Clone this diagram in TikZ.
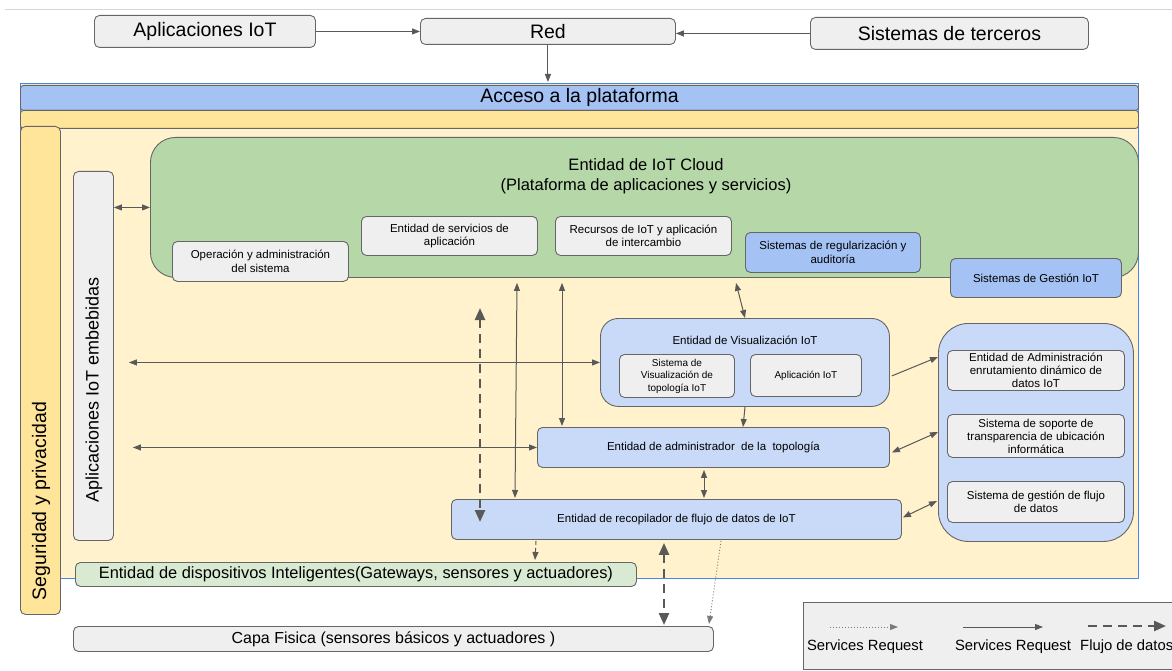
\documentclass[tikz,border=0pt]{standalone}
\usepackage{fontspec}
\setmainfont{Liberation Sans}
\usetikzlibrary{arrows.meta,calc}
\definecolor{boxgray}{HTML}{EFEFEF}
\definecolor{edgegray}{HTML}{666666}
\definecolor{arrgray}{HTML}{595959}
\definecolor{bluelight}{HTML}{C9DAF8}
\definecolor{bluemid}{HTML}{A4C2F4}
\definecolor{blueline}{HTML}{4A86E8}
\definecolor{greenmid}{HTML}{B6D7A8}
\definecolor{greenlight}{HTML}{D9EAD3}
\definecolor{yellowmid}{HTML}{FFE599}
\definecolor{yellowlight}{HTML}{FFF2CC}
\definecolor{rulegray}{HTML}{D6D6D6}
\begin{document}
\begin{tikzpicture}[x=1pt,y=-1pt,
  box/.style={draw=edgegray, line width=0.9pt, rounded corners=5pt, anchor=north west,
    inner sep=0pt, align=center, text=black},
  txt/.style={inner sep=0pt, align=center, text=black},
  fbig/.style={font=\fontsize{19.5}{22}\selectfont},
  fmid/.style={font=\fontsize{16}{19}\selectfont},
  fsmall/.style={font=\fontsize{11.5}{13.5}\selectfont},
  conn/.style={draw=arrgray, line width=1pt},
  one/.style={conn, -{Triangle[length=8pt,width=6pt]}},
  two/.style={conn, {Triangle[length=8pt,width=6pt]}-{Triangle[length=8pt,width=6pt]}},
  flow/.style={draw=arrgray, line width=2.4pt, dash pattern=on 9pt off 6pt,
    {Triangle[length=12pt,width=10pt]}-{Triangle[length=12pt,width=10pt]}},
  thindash/.style={draw=arrgray, line width=1pt, dash pattern=on 4pt off 3pt,
    -{Triangle[length=8pt,width=6pt]}},
  dots/.style={draw=arrgray!80, line width=0.9pt, dash pattern=on 1pt off 2pt,
    -{Triangle[length=8pt,width=6pt]}},
]
\useasboundingbox (0,0) rectangle (1172,671);
\clip (0,0) rectangle (1172,671);

% thin rule across the top
\draw[rulegray, line width=1pt] (5,10) -- (1172,10);

% external actors
\node[box, fill=boxgray, fbig, minimum width=221pt, minimum height=32pt] (apl) at (94,15) {Aplicaciones IoT};
\node[box, fill=boxgray, fbig, minimum width=255pt, minimum height=26pt] (red) at (420,18) {Red};
\node[box, fill=boxgray, fbig, minimum width=278pt, minimum height=32pt] (ter) at (810,17) {Sistemas de terceros};

% platform container
\node[draw=blueline, line width=1.3pt, fill=yellowlight, anchor=north west, inner sep=0pt,
  minimum width=1118pt, minimum height=495pt] (plat) at (20,83) {};
\node[box, rounded corners=3pt, fill=bluemid, font=\fontsize{19.5}{22}\selectfont,
  minimum width=1118pt, minimum height=25pt] (acc) at (20,85) {Acceso a la plataforma};
\node[box, rounded corners=3pt, fill=yellowmid, minimum width=1118pt, minimum height=18pt] (band) at (20,110) {};

% vertical bars
\node[box, fill=yellowmid, minimum width=40pt, minimum height=488pt] (seg) at (20,126) {};
\node[txt, rotate=90, font=\fontsize{19.5}{22}\selectfont] (segtxt) at (41,501) {Seguridad y privacidad};
\node[box, fill=boxgray, minimum width=40pt, minimum height=369pt] (emb) at (73,171) {};
\node[txt, rotate=90, font=\fontsize{18}{21}\selectfont] (embtxt) at (94,390) {Aplicaciones IoT embebidas};

% cloud entity
\node[box, rounded corners=25pt, fill=greenmid, minimum width=988pt, minimum height=140pt] (cloud) at (150,137) {};
\node[txt, font=\fontsize{16.5}{20}\selectfont] (cloudtitle) at (646,176)
  {Entidad de IoT Cloud\\(Plataforma de aplicaciones y servicios)};
\node[box, fill=boxgray, fsmall, minimum width=176pt, minimum height=40pt] (ops) at (172,241)
  {Operación y administración\\del sistema};
\node[box, fill=boxgray, fsmall, minimum width=176pt, minimum height=39pt] (serv) at (361,216)
  {Entidad de servicios de\\aplicación};
\node[box, fill=boxgray, fsmall, minimum width=176pt, minimum height=39pt] (recu) at (555,216)
  {Recursos de IoT y aplicación\\de intercambio};
\node[box, fill=bluemid, fsmall, minimum width=175pt, minimum height=40pt] (regu) at (745,232)
  {Sistemas de regularización y\\auditoría};
\node[box, fill=bluemid, fsmall, minimum width=171pt, minimum height=39pt] (gest) at (950,258)
  {Sistemas de Gestión IoT};

% visualisation entity
\node[box, rounded corners=18pt, fill=bluelight, minimum width=289pt, minimum height=88pt] (vis) at (600,318) {};
\node[txt, font=\fontsize{11.5}{13}\selectfont] (vistitle) at (745,340) {Entidad de Visualización IoT};
\node[box, fill=boxgray, font=\fontsize{10}{12.5}\selectfont, minimum width=115pt, minimum height=43pt] (vtop) at (619,354)
  {Sistema de\\Visualización de\\topología IoT};
\node[box, fill=boxgray, font=\fontsize{10}{12.5}\selectfont, minimum width=111pt, minimum height=42pt] (vapp) at (750,354)
  {Aplicación IoT};

% right-hand group
\node[box, rounded corners=30pt, fill=bluelight, minimum width=195pt, minimum height=218pt] (rgrp) at (938,323) {};
\node[box, fill=boxgray, font=\fontsize{11.5}{13}\selectfont, minimum width=177pt, minimum height=40pt] (r1) at (947,350)
  {Entidad de Administración\\enrutamiento dinámico de\\datos IoT};
\node[box, fill=boxgray, font=\fontsize{11.5}{13}\selectfont, minimum width=177pt, minimum height=43pt] (r2) at (947,414)
  {Sistema de soporte de\\transparencia de ubicación\\informática};
\node[box, fill=boxgray, font=\fontsize{11.5}{13.5}\selectfont, minimum width=177pt, minimum height=41pt] (r3) at (947,481)
  {Sistema de gestión de flujo\\de datos};

% topology and data collector entities
\node[box, fill=bluelight, fsmall, minimum width=352pt, minimum height=40pt] (admin) at (537,427)
  {Entidad de administrador\ \ de la\ \ topología};
\node[box, fill=bluelight, fsmall, minimum width=450pt, minimum height=40pt] (recop) at (451,499)
  {Entidad de recopilador de flujo de datos de IoT};

% devices and physical layer
\node[box, fill=greenlight, font=\fontsize{16.4}{19}\selectfont, minimum width=561pt, minimum height=24pt] (dev) at (75,562)
  {Entidad de dispositivos Inteligentes(Gateways, sensores y actuadores)};
\node[box, fill=boxgray, fmid, minimum width=640pt, minimum height=25pt] (capa) at (73,626)
  {Capa Fisica (sensores básicos y actuadores )};

% legend
\node[draw=edgegray, line width=0.9pt, fill=boxgray, anchor=north west, inner sep=0pt,
  minimum width=380pt, minimum height=67pt] (leg) at (803,602) {};
\coordinate (l1a) at (830,627); \coordinate (l1b) at (898,627);
\coordinate (l2a) at (963,627); \coordinate (l2b) at (1043,627);
\coordinate (l3a) at (1088,626); \coordinate (l3b) at (1166,626);
\draw[dots] (l1a) -- (l1b);
\draw[one] (l2a) -- (l2b);
\draw[draw=arrgray, line width=2.2pt, dash pattern=on 9pt off 6pt, -{Triangle[length=12pt,width=10pt]}] (l3a) -- (l3b);
\node[txt, font=\fontsize{14.8}{17}\selectfont] (lt1) at (865,647) {Services Request};
\node[txt, font=\fontsize{14.8}{17}\selectfont] (lt2) at (1013,647) {Services Request};
\node[txt, font=\fontsize{14.8}{17}\selectfont, anchor=west] (lt3) at (1080,647) {Flujo de datos};

% connectors: outside world
\draw[one] (apl.east) -- (red.west |- apl.east);
\draw[one] (ter.west) -- (red.east |- ter.west);
\draw[one] (red.south) -- ($(red.south |- acc.north)+(0,-3)$);

% connectors: embedded applications
\draw[two] (emb.east |- cloud.west) -- (cloud.west);
\draw[two] ($(emb.east |- vis.west)+(15,0)$) -- (vis.west);
\draw[two] ($(emb.east |- admin.west)+(19,0)$) -- (admin.west);

% connectors: cloud to lower entities
\draw[flow] ($(recop.north west)+(29,-191)$) -- ($(recop.north west)+(29,23)$);
\draw[two] ($(cloud.south west)+(367,5)$) -- ($(recop.north west)+(64,-1)$);
\draw[two] ($(cloud.south west)+(412,5)$) -- ($(admin.north west)+(25,-1)$);
\draw[two] ($(cloud.south west)+(586,5)$) -- ($(vis.north west)+(145,0)$);
\draw[one] ($(vis.south west)+(145,0)$) -- ($(admin.north west)+(206,0)$);
\draw[two] ($(admin.south west)+(167,2)$) -- ($(recop.north west)+(167+86,-1)$);

% connectors: right-hand group
\draw[one] ($(vis.south east)+(2,-31)$) -- ($(rgrp.north west)+(0,34)$);
\draw[two] ($(admin.east)+(2,5)$) -- ($(rgrp.north west)+(0,109)$);
\draw[two] ($(recop.east)+(1,-2)$) -- ($(rgrp.north west)+(-1,178)$);

% connectors: to devices and physical layer
\draw[thindash] ($(recop.south west)+(85,1)$) -- ($(dev.north west)+(460,-2)$);
\draw[flow] ($(recop.south west)+(213,3)$) -- ($(capa.north west)+(591,-1)$);
\draw[dots] ($(recop.south west)+(270,1)$) -- ($(capa.north west)+(636,-2)$);
\end{tikzpicture}
\end{document}
